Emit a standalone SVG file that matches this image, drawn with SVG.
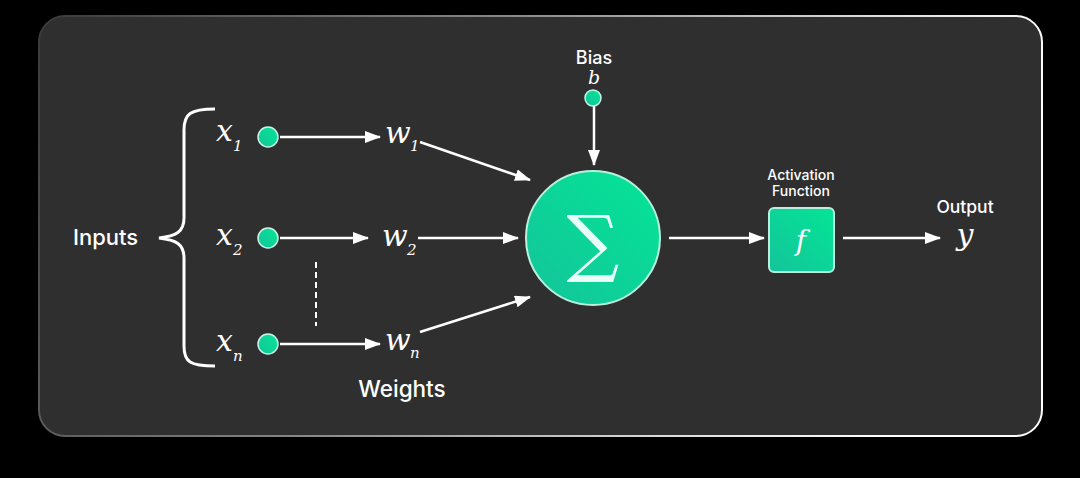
<svg xmlns="http://www.w3.org/2000/svg" width="1080" height="478" viewBox="0 0 1080 478">
<defs>
<linearGradient id="border" x1="0" y1="0" x2="1" y2="0.2">
<stop offset="0" stop-color="#3a3a3a"/>
<stop offset="0.45" stop-color="#888"/>
<stop offset="0.8" stop-color="#ddd"/>
<stop offset="1" stop-color="#fff"/>
</linearGradient>
<linearGradient id="green" x1="0" y1="1" x2="1" y2="0">
<stop offset="0" stop-color="#14c49a"/>
<stop offset="1" stop-color="#04e596"/>
</linearGradient>
<marker id="ahb" viewBox="0 0 16 12" refX="15" refY="6" markerWidth="16" markerHeight="12" markerUnits="userSpaceOnUse" orient="auto">
<path d="M0,0 L16,6 L0,12 z" fill="#fff"/>
</marker>
<style>
.sans{font-family:Inter,"Open Sans","Liberation Sans",sans-serif;font-weight:500;fill:#fff}
.math{font-family:"DejaVu Serif","Liberation Serif",serif;font-style:italic;fill:#fff}
.sub{font-family:"DejaVu Serif","Liberation Serif",serif;font-style:italic;fill:#fff;font-size:15px}
.conn{stroke:#fff;stroke-width:2.5;fill:none;marker-end:url(#ahb)}
.dot{fill:url(#green);stroke:#c8f5e6;stroke-width:1.5}
</style>
</defs>
<rect width="1080" height="478" fill="#000"/>
<rect x="39" y="16" width="1003" height="420" rx="26" fill="#2f2f2f" stroke="url(#border)" stroke-width="2"/>

<g id="inputs-label">
<text class="sans" x="73" y="245" font-size="22">Inputs</text>
<path d="M215,109 C190,109 184,114 184,130 L184,218 C184,232 176,236 159,238 C176,240 184,244 184,258 L184,346 C184,362 190,366 215,366" fill="none" stroke="#fff" stroke-width="3"/>
</g>

<g id="x1"><text class="math" x="216" y="141" font-size="30">x</text><text class="sub" x="233" y="151">1</text><circle class="dot" cx="268" cy="137" r="10"/></g>
<g id="x2"><text class="math" x="216" y="245" font-size="30">x</text><text class="sub" x="233" y="255">2</text><circle class="dot" cx="268" cy="238" r="10"/></g>
<g id="xn"><text class="math" x="216" y="351" font-size="30">x</text><text class="sub" x="233" y="361">n</text><circle class="dot" cx="268" cy="344" r="10"/></g>

<g id="w1"><text class="math" x="385" y="143" font-size="30">w</text><text class="sub" x="410" y="151">1</text></g>
<g id="w2"><text class="math" x="382" y="246" font-size="30">w</text><text class="sub" x="407" y="255">2</text></g>
<g id="wn"><text class="math" x="385" y="350" font-size="30">w</text><text class="sub" x="410" y="358">n</text></g>

<g id="weights-label"><text class="sans" x="402" y="397" font-size="22.5" text-anchor="middle">Weights</text></g>

<g id="bias"><text class="sans" x="594" y="64" font-size="18" text-anchor="middle">Bias</text><text class="math" x="594" y="84" font-size="19" text-anchor="middle">b</text><circle class="dot" cx="593" cy="98" r="8"/></g>

<g id="sum"><circle cx="593" cy="238" r="67" fill="url(#green)" stroke="#b8f0dd" stroke-width="2"/><text x="593" y="268" font-family="'DejaVu Serif','Liberation Serif',serif" font-size="74" fill="#e8fff7" text-anchor="middle">∑</text></g>

<g id="activation"><text class="sans" x="801" y="180" font-size="14" text-anchor="middle" fill="#ddd">Activation</text><text class="sans" x="801" y="196" font-size="14" text-anchor="middle">Function</text><rect x="769" y="208" width="65" height="64" rx="5" fill="url(#green)" stroke="#b8f0dd" stroke-width="2"/><text class="math" x="801" y="250" font-size="28" text-anchor="middle" fill="#e8fff7">f</text></g>

<g id="output"><text class="sans" x="965" y="213" font-size="17.5" text-anchor="middle">Output</text><text class="math" x="965" y="245" font-size="30" text-anchor="middle">y</text></g>

<g id="connectors">
<line class="conn" x1="280" y1="137" x2="380" y2="137"/>
<line class="conn" x1="280" y1="238" x2="368" y2="238"/>
<line class="conn" x1="280" y1="344" x2="380" y2="344"/>
<line x1="316" y1="262" x2="316" y2="326" stroke="#fff" stroke-width="2" stroke-dasharray="6,4"/>
<line class="conn" x1="420" y1="142" x2="530" y2="180"/>
<line class="conn" x1="418" y1="238" x2="518" y2="238"/>
<line class="conn" x1="420" y1="332" x2="530" y2="297"/>
<line class="conn" x1="594" y1="106" x2="594" y2="165"/>
<line class="conn" x1="669" y1="238" x2="764" y2="238"/>
<line class="conn" x1="843" y1="238" x2="940" y2="238"/>
</g>
</svg>
